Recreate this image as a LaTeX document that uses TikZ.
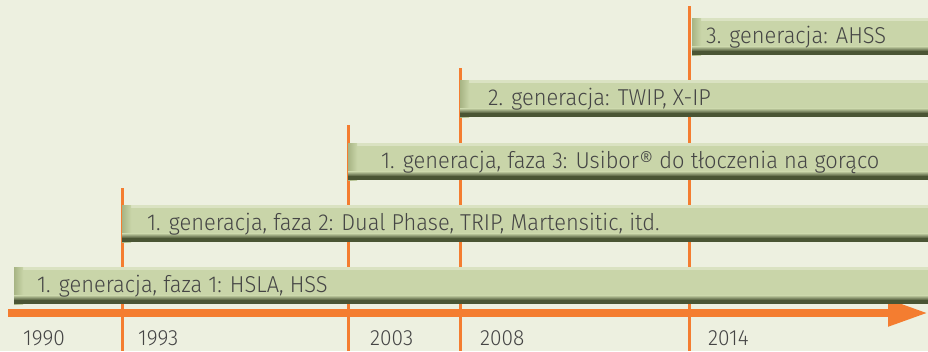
\documentclass[tikz,border=0pt]{standalone}
\usepackage{fontspec}
\setmainfont{Fira Sans}[UprightFont=* Light, FakeStretch=0.95]
\usetikzlibrary{positioning,arrows.meta}
\definecolor{bgcol}{HTML}{EDF0E0}
\definecolor{barcol}{HTML}{C9D5A9}
\definecolor{barlight}{HTML}{DAE2C2}
\definecolor{baredge}{HTML}{A8B585}
\definecolor{bardark}{HTML}{4A5534}
\definecolor{axiscol}{HTML}{F47D30}
\definecolor{txtcol}{HTML}{454545}
\tikzset{
  GenBar/.style = { rectangle, inner sep=0pt, minimum height=37pt,
                    anchor=north west, fill=barcol,
                    path picture={
                      \fill[barlight] (path picture bounding box.north west)
                        rectangle ([yshift=-3pt]path picture bounding box.north east);
                      \shade[left color=baredge, right color=barcol]
                        (path picture bounding box.south west)
                        rectangle ([xshift=9pt]path picture bounding box.north west);
                      \shade[top color=barcol, bottom color=bardark]
                        ([yshift=9pt]path picture bounding box.south west)
                        rectangle ([yshift=4pt]path picture bounding box.south east);
                      \fill[bardark] (path picture bounding box.south west)
                        rectangle ([yshift=4pt]path picture bounding box.south east);
                    } },
  GenLabel/.style = { anchor=west, inner sep=0pt, text=txtcol,
                      text height=16pt, text depth=0pt,
                      font=\fontsize{23}{27}\selectfont },
  YearLabel/.style = { GenLabel, font=\fontsize{22}{26}\selectfont },
  TickLine/.style = { draw=axiscol, line width=3pt },
  AxisArrow/.style = { draw=axiscol, line width=8pt,
                       -{Triangle[length=40pt,width=25pt]} }
}

\begin{document}
\begin{tikzpicture}[x=1pt,y=-1pt]
  \useasboundingbox (0,0) rectangle (928,351);
  \clip (0,0) rectangle (928,351);
  \fill[bgcol] (0,0) rectangle (928,351);

  % tick lines
  \coordinate (t1993) at (122,188);  \coordinate (b1993) at (122,351);
  \coordinate (t2003) at (348,125);  \coordinate (b2003) at (348,351);
  \coordinate (t2008) at (460,68);   \coordinate (b2008) at (460,351);
  \coordinate (t2014) at (689,6);    \coordinate (b2014) at (689,351);
  \draw[TickLine] (t1993) -- (b1993);
  \draw[TickLine] (t2003) -- (b2003);
  \draw[TickLine] (t2008) -- (b2008);
  \draw[TickLine] (t2014) -- (b2014);

  % axis
  \coordinate (axstart) at (8,313);
  \coordinate (axend) at (928,313);
  \draw[AxisArrow] (axstart) -- (axend);

  % bars
  \node[GenBar, minimum width=930pt] (bar1) at (14,267) {};
  \node[GenBar, minimum width=820pt] (bar2) at (122,205) {};
  \node[GenBar, minimum width=590pt] (bar3) at (348,143) {};
  \node[GenBar, minimum width=480pt] (bar4) at (460,80) {};
  \node[GenBar, minimum width=250pt] (bar5) at (692,18) {};

  \node[GenLabel, right=23pt of bar1.west, yshift=1pt] (gen1a)
    {1. generacja, faza 1: HSLA, HSS};
  \node[GenLabel, right=25pt of bar2.west, yshift=1pt] (gen1b)
    {1. generacja, faza 2: Dual Phase, TRIP, Martensitic, itd.};
  \node[GenLabel, right=33pt of bar3.west, yshift=1pt] (gen1c)
    {1. generacja, faza 3: Usibor® do tłoczenia na gorąco};
  \node[GenLabel, right=28pt of bar4.west, yshift=1pt] (gen2)
    {2. generacja: TWIP, X-IP};
  \node[GenLabel, right=14pt of bar5.west, yshift=1pt] (gen3)
    {3. generacja: AHSS};

  % years
  \node[YearLabel] (y1990) at (23,337) {1990};
  \node[YearLabel] (y1993) at (138,337) {1993};
  \node[YearLabel] (y2003) at (370,337) {2003};
  \node[YearLabel] (y2008) at (480,337) {2008};
  \node[YearLabel] (y2014) at (708,337) {2014};
\end{tikzpicture}
\end{document}
